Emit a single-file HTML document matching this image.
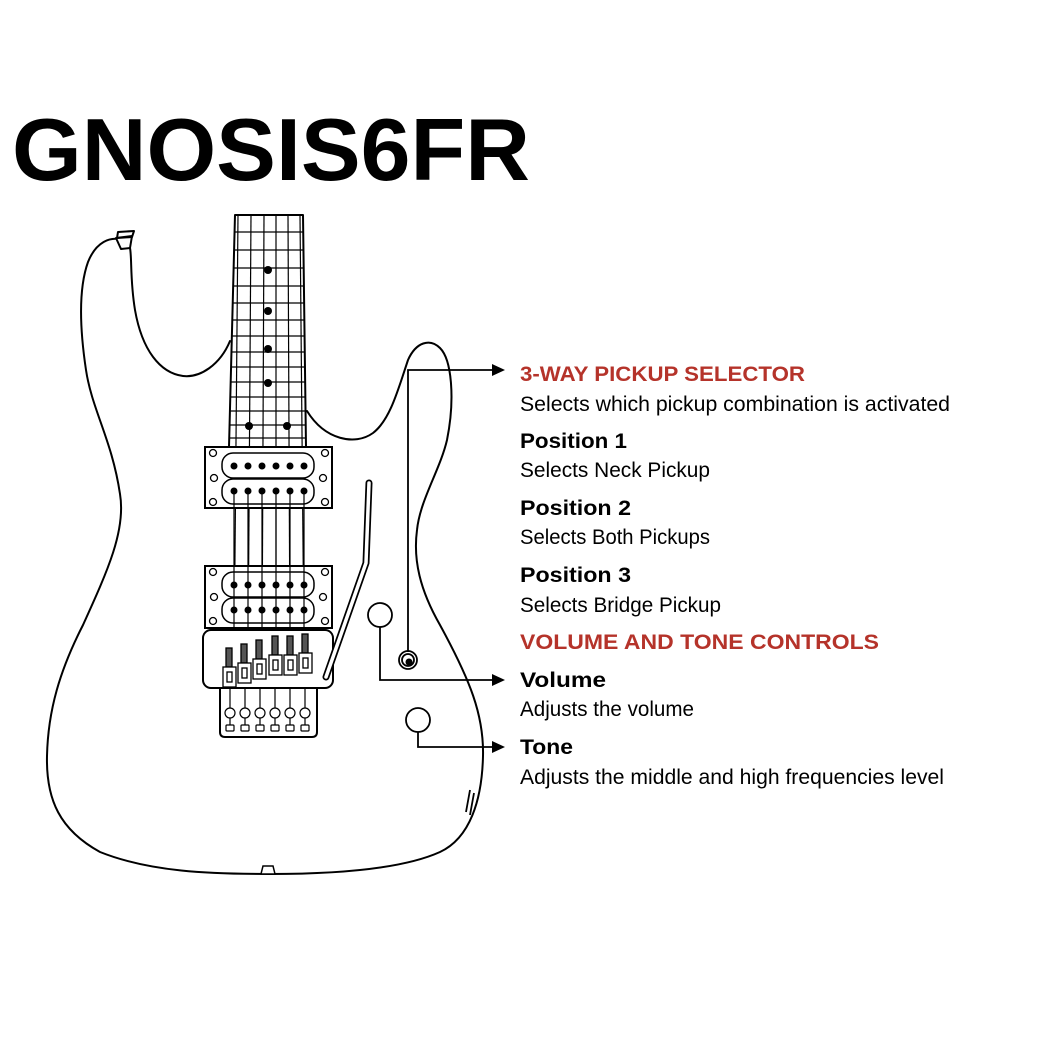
<!DOCTYPE html>
<html><head><meta charset="utf-8"><style>html,body{margin:0;padding:0;background:#fff}svg{display:block}</style></head>
<body>
<svg width="1050" height="1050" viewBox="0 0 1050 1050" xmlns="http://www.w3.org/2000/svg" font-family="Liberation Sans, sans-serif">
<rect width="1050" height="1050" fill="#fff"/>
<text x="12" y="180" font-size="88" font-weight="bold" textLength="518" lengthAdjust="spacingAndGlyphs">GNOSIS6FR</text>
<g fill="none" stroke="#000" stroke-width="2" stroke-linejoin="round" stroke-linecap="round">
<path d="M123,240 C110,236 96,242 88,262 C78,290 80,330 86,370 C92,410 112,440 120,494 C126,530 108,570 83,625 C60,670 48,710 47,756 C46,800 60,830 100,852 C150,872 210,874 270,874 C330,874 400,870 440,852 C470,838 482,800 483,756 C484,715 470,680 440,625 C420,590 413,560 417,530 C420,500 440,470 447,440 C455,400 452,360 440,348 C430,338 416,342 408,360 C398,390 390,420 373,433 C355,446 325,440 307,411"/>
<path d="M230,341 C220,365 200,378 183,376 C160,373 142,350 135,310 C130,280 132,258 130,248"/>
<path d="M116,238 L132,236 L130,248 L121,249 Z" fill="#fff"/>
<path d="M118,232 L134,231 L132,237 L117,238 Z"/>
<path d="M235,215 L303,215 L306,447 M235,215 L229,447"/>
</g>
<g stroke="#000" stroke-width="1.2">
<line x1="235" y1="232" x2="304" y2="232"/><line x1="234" y1="250" x2="304" y2="250"/><line x1="234" y1="268" x2="304" y2="268"/><line x1="233" y1="286" x2="304" y2="286"/><line x1="233" y1="303" x2="305" y2="303"/><line x1="232" y1="320" x2="305" y2="320"/><line x1="232" y1="336" x2="305" y2="336"/><line x1="231" y1="352" x2="305" y2="352"/><line x1="231" y1="367" x2="305" y2="367"/><line x1="231" y1="382" x2="305" y2="382"/><line x1="230" y1="397" x2="306" y2="397"/><line x1="230" y1="411" x2="306" y2="411"/><line x1="230" y1="425" x2="306" y2="425"/><line x1="229" y1="438" x2="306" y2="438"/>
<line x1="238" y1="215" x2="234" y2="668"/><line x1="251" y1="215" x2="248" y2="664"/><line x1="264" y1="215" x2="262" y2="660"/><line x1="276" y1="215" x2="276" y2="655"/><line x1="288" y1="215" x2="290" y2="655"/><line x1="300" y1="215" x2="304" y2="652"/>
</g>
<g fill="#000"><circle cx="268" cy="270" r="4"/><circle cx="268" cy="311" r="4"/><circle cx="268" cy="349" r="4"/><circle cx="268" cy="383" r="4"/><circle cx="249" cy="426" r="4"/><circle cx="287" cy="426" r="4"/></g>
<g>
<rect x="205" y="447" width="127" height="61" fill="#fff" stroke="#000" stroke-width="2"/>
<rect x="222" y="453" width="92" height="25" rx="11" fill="#fff" stroke="#000" stroke-width="1.5"/>
<rect x="222" y="479" width="92" height="25" rx="11" fill="#fff" stroke="#000" stroke-width="1.5"/>
<g fill="#fff" stroke="#000" stroke-width="1.3"><circle cx="213" cy="453" r="3.5"/><circle cx="325" cy="453" r="3.5"/><circle cx="214" cy="478" r="3.5"/><circle cx="323" cy="478" r="3.5"/><circle cx="213" cy="502" r="3.5"/><circle cx="325" cy="502" r="3.5"/></g>
<g fill="#000"><circle cx="234" cy="466" r="3.5"/><circle cx="248" cy="466" r="3.5"/><circle cx="262" cy="466" r="3.5"/><circle cx="276" cy="466" r="3.5"/><circle cx="290" cy="466" r="3.5"/><circle cx="304" cy="466" r="3.5"/><circle cx="234" cy="491" r="3.5"/><circle cx="248" cy="491" r="3.5"/><circle cx="262" cy="491" r="3.5"/><circle cx="276" cy="491" r="3.5"/><circle cx="290" cy="491" r="3.5"/><circle cx="304" cy="491" r="3.5"/></g>
</g>
<g transform="translate(0,119)">
<rect x="205" y="447" width="127" height="62" fill="#fff" stroke="#000" stroke-width="2"/>
<rect x="222" y="453" width="92" height="25" rx="11" fill="#fff" stroke="#000" stroke-width="1.5"/>
<rect x="222" y="479" width="92" height="25" rx="11" fill="#fff" stroke="#000" stroke-width="1.5"/>
<g fill="#fff" stroke="#000" stroke-width="1.3"><circle cx="213" cy="453" r="3.5"/><circle cx="325" cy="453" r="3.5"/><circle cx="214" cy="478" r="3.5"/><circle cx="323" cy="478" r="3.5"/><circle cx="213" cy="502" r="3.5"/><circle cx="325" cy="502" r="3.5"/></g>
<g fill="#000"><circle cx="234" cy="466" r="3.5"/><circle cx="248" cy="466" r="3.5"/><circle cx="262" cy="466" r="3.5"/><circle cx="276" cy="466" r="3.5"/><circle cx="290" cy="466" r="3.5"/><circle cx="304" cy="466" r="3.5"/><circle cx="234" cy="491" r="3.5"/><circle cx="248" cy="491" r="3.5"/><circle cx="262" cy="491" r="3.5"/><circle cx="276" cy="491" r="3.5"/><circle cx="290" cy="491" r="3.5"/><circle cx="304" cy="491" r="3.5"/></g>
</g>
<g stroke="#000" stroke-width="1.2"><line x1="234" y1="491" x2="234" y2="668"/><line x1="248" y1="491" x2="248" y2="664"/><line x1="262" y1="491" x2="262" y2="660"/><line x1="276" y1="491" x2="276" y2="655"/><line x1="290" y1="491" x2="290" y2="655"/><line x1="304" y1="491" x2="304" y2="652"/></g>
<path d="M220,688 L220,732 Q220,737 225,737 L312,737 Q317,737 317,732 L317,688" fill="#fff" stroke="#000" stroke-width="2"/>
<g stroke="#000" stroke-width="1.2" fill="#fff">
<line x1="230" y1="688" x2="230" y2="728"/><line x1="245" y1="688" x2="245" y2="728"/><line x1="260" y1="688" x2="260" y2="728"/><line x1="275" y1="688" x2="275" y2="728"/><line x1="290" y1="688" x2="290" y2="728"/><line x1="305" y1="688" x2="305" y2="728"/>
<circle cx="230" cy="713" r="5"/><circle cx="245" cy="713" r="5"/><circle cx="260" cy="713" r="5"/><circle cx="275" cy="713" r="5"/><circle cx="290" cy="713" r="5"/><circle cx="305" cy="713" r="5"/>
<rect x="226" y="725" width="8" height="6" rx="1"/><rect x="241" y="725" width="8" height="6" rx="1"/><rect x="256" y="725" width="8" height="6" rx="1"/><rect x="271" y="725" width="8" height="6" rx="1"/><rect x="286" y="725" width="8" height="6" rx="1"/><rect x="301" y="725" width="8" height="6" rx="1"/>
</g>
<rect x="203" y="630" width="130" height="58" rx="8" fill="#fff" stroke="#000" stroke-width="2"/>
<g stroke="#000" stroke-width="1.3" fill="#fff">
<rect x="226" y="648" width="6" height="19" fill="#555"/><rect x="223" y="667" width="13" height="20"/><rect x="227" y="672" width="5" height="10"/>
<rect x="241" y="644" width="6" height="19" fill="#555"/><rect x="238" y="663" width="13" height="20"/><rect x="242" y="668" width="5" height="10"/>
<rect x="256" y="640" width="6" height="19" fill="#555"/><rect x="253" y="659" width="13" height="20"/><rect x="257" y="664" width="5" height="10"/>
<rect x="272" y="636" width="6" height="19" fill="#555"/><rect x="269" y="655" width="13" height="20"/><rect x="273" y="660" width="5" height="10"/>
<rect x="287" y="636" width="6" height="19" fill="#555"/><rect x="284" y="655" width="13" height="20"/><rect x="288" y="660" width="5" height="10"/>
<rect x="302" y="634" width="6" height="19" fill="#555"/><rect x="299" y="653" width="13" height="20"/><rect x="303" y="658" width="5" height="10"/>
</g>
<path d="M369,483 L366,563 L326,677" fill="none" stroke="#000" stroke-width="7" stroke-linecap="round" stroke-linejoin="round"/>
<path d="M369,483 L366,563 L326,677" fill="none" stroke="#fff" stroke-width="3.5" stroke-linecap="round" stroke-linejoin="round"/>
<g fill="none" stroke="#000" stroke-width="1.8">
<circle cx="380" cy="615" r="12"/><circle cx="418" cy="720" r="12"/>
<circle cx="408" cy="660" r="9"/><circle cx="408" cy="660" r="6"/>
<path d="M408,652 L408,370 L495,370"/>
<path d="M380,627 L380,680 L495,680"/>
<path d="M418,732 L418,747 L495,747"/>
<path d="M470,790 L466,812 M474,793 L470,815"/>
</g>
<circle cx="409" cy="662" r="3.5" fill="#000"/>
<g fill="#000"><path d="M505,370 L492,364 L492,376 Z"/><path d="M505,680 L492,674 L492,686 Z"/><path d="M505,747 L492,741 L492,753 Z"/></g>
<path d="M263,866 L273,866 L275,874 L261,874 Z" fill="#fff" stroke="#000" stroke-width="1.5"/>
<g font-size="21">
<text x="520" y="381" font-weight="bold" fill="#b5332a" textLength="285" lengthAdjust="spacingAndGlyphs">3-WAY PICKUP SELECTOR</text>
<text x="520" y="411" textLength="430" lengthAdjust="spacingAndGlyphs">Selects which pickup combination is activated</text>
<text x="520" y="448" font-weight="bold" textLength="107" lengthAdjust="spacingAndGlyphs">Position 1</text>
<text x="520" y="477" textLength="190" lengthAdjust="spacingAndGlyphs">Selects Neck Pickup</text>
<text x="520" y="515" font-weight="bold" textLength="111" lengthAdjust="spacingAndGlyphs">Position 2</text>
<text x="520" y="544" textLength="190" lengthAdjust="spacingAndGlyphs">Selects Both Pickups</text>
<text x="520" y="582" font-weight="bold" textLength="111" lengthAdjust="spacingAndGlyphs">Position 3</text>
<text x="520" y="612" textLength="201" lengthAdjust="spacingAndGlyphs">Selects Bridge Pickup</text>
<text x="520" y="649" font-weight="bold" fill="#b5332a" textLength="359" lengthAdjust="spacingAndGlyphs">VOLUME AND TONE CONTROLS</text>
<text x="520" y="687" font-weight="bold" textLength="86" lengthAdjust="spacingAndGlyphs">Volume</text>
<text x="520" y="716" textLength="174" lengthAdjust="spacingAndGlyphs">Adjusts the volume</text>
<text x="520" y="754" font-weight="bold" textLength="53" lengthAdjust="spacingAndGlyphs">Tone</text>
<text x="520" y="784" textLength="424" lengthAdjust="spacingAndGlyphs">Adjusts the middle and high frequencies level</text>
</g>
</svg>
</body></html>
